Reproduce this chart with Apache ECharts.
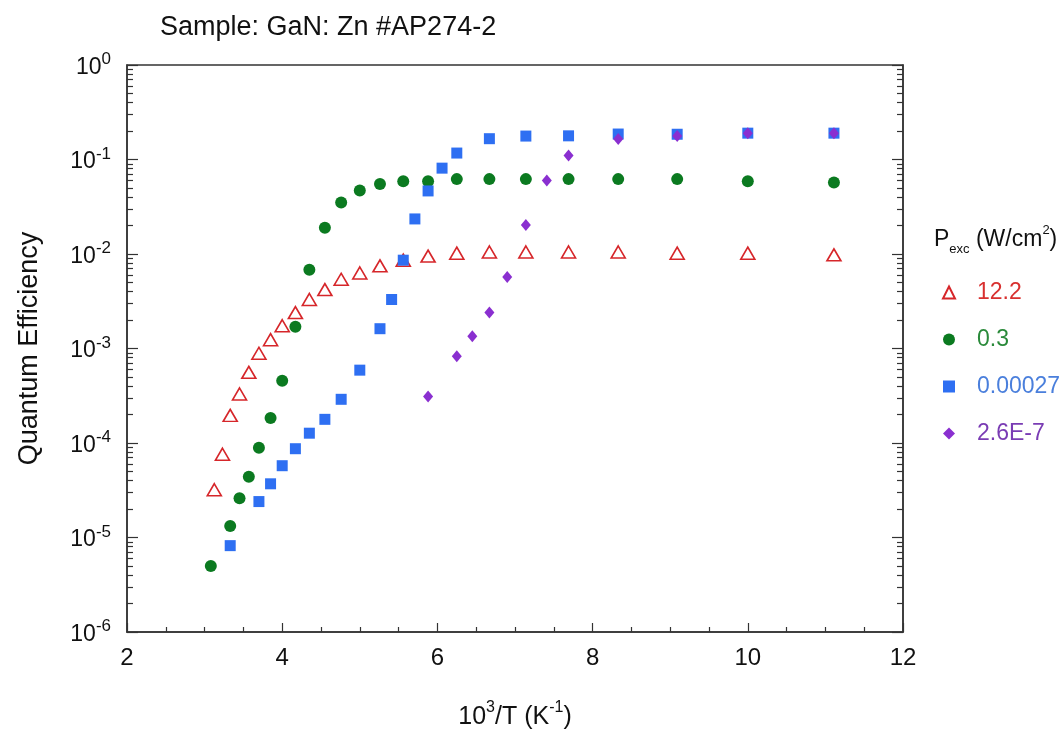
<!DOCTYPE html>
<html>
<head>
<meta charset="utf-8">
<script src="https://cdn.jsdelivr.net/npm/echarts@6/dist/echarts.min.js"></script>
<style>
html,body{margin:0;padding:0;background:#fff;}
#chart{width:1062px;height:735px;}
</style>
</head>
<body>
<div id="chart"></div>
<script>
// ---- data (x = 10^3/T in K^-1, y = quantum efficiency) ----
var seriesNames = ['12.2', '0.3', '0.00027', '2.6E-7'];

var redX = [3.125, 3.23, 3.33, 3.45, 3.57, 3.70, 3.85, 4.0, 4.17, 4.35, 4.55, 4.76, 5.0, 5.26, 5.56, 5.88, 6.25, 6.67, 7.14, 7.69, 8.33, 9.09, 10.0, 11.11];
var redY = [3.2e-5, 7.6e-5, 1.96e-4, 3.3e-4, 5.6e-4, 8.9e-4, 1.24e-3, 1.74e-3, 2.4e-3, 3.3e-3, 4.2e-3, 5.4e-3, 6.3e-3, 7.5e-3, 8.6e-3, 9.5e-3, 1.02e-2, 1.05e-2, 1.05e-2, 1.05e-2, 1.05e-2, 1.02e-2, 1.02e-2, 9.8e-3];

var greenX = [3.08, 3.33, 3.45, 3.57, 3.70, 3.85, 4.0, 4.17, 4.35, 4.55, 4.76, 5.0, 5.26, 5.56, 5.88, 6.25, 6.67, 7.14, 7.69, 8.33, 9.09, 10.0, 11.11];
var greenY = [5.0e-6, 1.32e-5, 2.6e-5, 4.4e-5, 8.9e-5, 1.84e-4, 4.55e-4, 1.7e-3, 6.8e-3, 1.9e-2, 3.5e-2, 4.7e-2, 5.5e-2, 5.9e-2, 5.9e-2, 6.2e-2, 6.2e-2, 6.2e-2, 6.2e-2, 6.2e-2, 6.2e-2, 5.9e-2, 5.7e-2];

var blueX = [3.33, 3.70, 3.85, 4.0, 4.17, 4.35, 4.55, 4.76, 5.0, 5.26, 5.41, 5.56, 5.71, 5.88, 6.06, 6.25, 6.67, 7.14, 7.69, 8.33, 9.09, 10.0, 11.11];
var blueY = [8.2e-6, 2.4e-5, 3.7e-5, 5.75e-5, 8.7e-5, 1.27e-4, 1.78e-4, 2.9e-4, 5.9e-4, 1.62e-3, 3.3e-3, 8.6e-3, 2.35e-2, 4.65e-2, 8.1e-2, 0.117, 0.166, 0.177, 0.178, 0.186, 0.185, 0.19, 0.19];

var purpleX = [5.88, 6.25, 6.45, 6.67, 6.90, 7.14, 7.41, 7.69, 8.33, 9.09, 10.0, 11.11];
var purpleY = [3.1e-4, 8.3e-4, 1.35e-3, 2.4e-3, 5.7e-3, 2.03e-2, 6.0e-2, 0.11, 0.165, 0.177, 0.189, 0.19];

var xTicks = [2, 4, 6, 8, 10, 12];
var yDecades = [-6, -5, -4, -3, -2, -1, 0];

// ---- helpers ----
function pairs(xs, ys) { return xs.map(function (x, i) { return [x, ys[i]]; }); }
var minorLog = [];
yDecades.slice(0, -1).forEach(function (d) {
  for (var k = 2; k <= 9; k++) minorLog.push(d + Math.log10(k));
});

var FONT = 'Liberation Sans, Arial, Helvetica, sans-serif';
var AXC = '#333';

var chart = echarts.init(document.getElementById('chart'), null, { renderer: 'canvas' });

function minorAxis(pos) {
  return {
    type: 'value', position: pos, min: yDecades[0], max: yDecades[yDecades.length - 1],
    axisLine: { show: false, onZero: false },
    axisLabel: { show: false },
    splitLine: { show: false },
    axisTick: { show: true, inside: true, length: 6, customValues: minorLog, lineStyle: { color: AXC, width: 1.2 } }
  };
}

var option = {
  backgroundColor: '#fff',
  animation: false,
  title: {
    text: 'Sample: GaN: Zn #AP274-2',
    left: 155, top: 9,
    textStyle: { fontFamily: FONT, fontSize: 27, fontWeight: 'normal', color: '#111' }
  },
  grid: { left: 127, right: 159, top: 65, bottom: 103, show: true, borderColor: '#333', borderWidth: 1.5, backgroundColor: 'transparent' },
  xAxis: [{
    type: 'value', min: xTicks[0], max: xTicks[xTicks.length - 1], interval: 2,
    name: '{b|10}{s|3}{b|/T (K}{s|-1}{b|)}',
    nameLocation: 'middle', nameGap: 68,
    nameTextStyle: {
      rich: {
        b: { fontFamily: FONT, fontSize: 25, color: '#111', lineHeight: 30, verticalAlign: 'bottom' },
        s: { fontFamily: FONT, fontSize: 16, color: '#111', lineHeight: 30, verticalAlign: 'top' }
      }
    },
    axisLine: { show: true, onZero: false, lineStyle: { color: AXC, width: 1.5 } },
    axisTick: { show: true, inside: true, length: 9, lineStyle: { color: AXC, width: 1.2 } },
    minorTick: { show: true, splitNumber: 4, length: 5, lineStyle: { color: AXC, width: 1.2 } },
    axisLabel: { fontFamily: FONT, fontSize: 24, color: '#111', margin: 14 },
    splitLine: { show: false }
  }],
  yAxis: [{
    type: 'log', logBase: 10, min: 1e-6, max: 1, interval: 1, position: 'left',
    name: 'Quantum Efficiency', nameLocation: 'middle', nameGap: 84, nameRotate: 90,
    nameTextStyle: { fontFamily: FONT, fontSize: 27, color: '#111' },
    axisLine: { show: true, onZero: false, lineStyle: { color: AXC, width: 1.5 } },
    axisTick: { show: true, inside: true, length: 11, lineStyle: { color: AXC, width: 1.2 } },
    axisLabel: {
      margin: 16,
      formatter: function (v) { return '{b|10}{s|' + Math.round(Math.log10(v)) + '}'; },
      rich: {
        b: { fontFamily: FONT, fontSize: 23, color: '#111', lineHeight: 28, verticalAlign: 'bottom' },
        s: { fontFamily: FONT, fontSize: 17, color: '#111', lineHeight: 28, verticalAlign: 'top' }
      }
    },
    splitLine: { show: false }
  },
  minorAxis('left'),
  {
    type: 'log', logBase: 10, min: 1e-6, max: 1, interval: 1, position: 'right',
    axisLine: { show: true, onZero: false, lineStyle: { color: AXC, width: 1.5 } },
    axisTick: { show: true, inside: true, length: 11, lineStyle: { color: AXC, width: 1.2 } },
    axisLabel: { show: false },
    splitLine: { show: false }
  },
  minorAxis('right')
  ],
  legend: {
    orient: 'vertical', left: 937, top: 276,
    itemWidth: 12, itemHeight: 12, itemGap: 24,
    textStyle: { fontFamily: FONT, fontSize: 23, padding: [0, 0, 0, 17] },
    data: [
      { name: seriesNames[0], textStyle: { color: '#d8302f' } },
      { name: seriesNames[1], textStyle: { color: '#2a8a3a' } },
      { name: seriesNames[2], textStyle: { color: '#4a7fdc' } },
      { name: seriesNames[3], textStyle: { color: '#7a3cb4' } }
    ]
  },
  graphic: [{
    type: 'text', left: 934, top: 224,
    style: {
      text: '{b|P}{sub|exc}{b| (W/cm}{sup|2}{b|)}',
      rich: {
        b: { fontFamily: FONT, fontSize: 23, fill: '#111', lineHeight: 32, verticalAlign: 'middle' },
        sub: { fontFamily: FONT, fontSize: 13, fill: '#111', lineHeight: 32, verticalAlign: 'bottom' },
        sup: { fontFamily: FONT, fontSize: 13, fill: '#111', lineHeight: 32, verticalAlign: 'top' }
      }
    }
  }],
  series: [
    {
      name: seriesNames[0], type: 'scatter', data: pairs(redX, redY),
      symbol: 'triangle', symbolSize: [14, 12],
      itemStyle: { color: '#ffffff', borderColor: '#d6262a', borderWidth: 1.6, opacity: 1 }
    },
    {
      name: seriesNames[1], type: 'scatter', data: pairs(greenX, greenY),
      symbol: 'circle', symbolSize: 12,
      itemStyle: { color: '#0b7a20', opacity: 1 }
    },
    {
      name: seriesNames[2], type: 'scatter', data: pairs(blueX, blueY),
      symbol: 'rect', symbolSize: 11,
      itemStyle: { color: '#2e6ff2', opacity: 1 }
    },
    {
      name: seriesNames[3], type: 'scatter', data: pairs(purpleX, purpleY),
      symbol: 'diamond', symbolSize: [10, 12],
      itemStyle: { color: '#8a2fd0', opacity: 1 }
    }
  ]
};
chart.setOption(option);
</script>
</body>
</html>
